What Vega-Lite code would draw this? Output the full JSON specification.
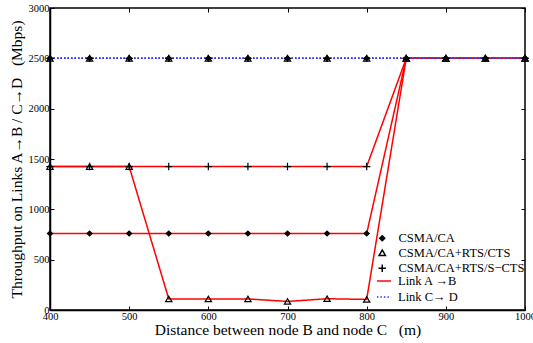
{
  "$schema": "https://vega.github.io/schema/vega-lite/v6.json",
  "width": 475,
  "height": 302,
  "autosize": {"type": "none"},
  "padding": {"left": 50, "top": 8, "right": 8, "bottom": 33},
  "background": "white",
  "config": {
    "font": "Liberation Serif",
    "view": {"stroke": "black", "strokeWidth": 1.5},
    "axis": {
      "labelFont": "Liberation Serif",
      "titleFont": "Liberation Serif",
      "labelFontSize": 10.5,
      "titleFontSize": 15.5,
      "titleFontWeight": "normal",
      "grid": false,
      "domainColor": "black",
      "domainWidth": 1.5,
      "tickColor": "black",
      "labelColor": "black",
      "titleColor": "black",
      "tickSize": -4,
      "format": "d"
    },
    "legend": {
      "labelFont": "Liberation Serif",
      "labelFontSize": 12.5,
      "labelColor": "black"
    }
  },
  "resolve": {"axis": {"x": "independent", "y": "independent"}},
  "datasets": {
    "rows": [
      {"d": 400, "thr": 760, "proto": "CSMA/CA", "link": "Link A →B"},
      {"d": 450, "thr": 760, "proto": "CSMA/CA", "link": "Link A →B"},
      {"d": 500, "thr": 760, "proto": "CSMA/CA", "link": "Link A →B"},
      {"d": 550, "thr": 760, "proto": "CSMA/CA", "link": "Link A →B"},
      {"d": 600, "thr": 760, "proto": "CSMA/CA", "link": "Link A →B"},
      {"d": 650, "thr": 760, "proto": "CSMA/CA", "link": "Link A →B"},
      {"d": 700, "thr": 760, "proto": "CSMA/CA", "link": "Link A →B"},
      {"d": 750, "thr": 760, "proto": "CSMA/CA", "link": "Link A →B"},
      {"d": 800, "thr": 760, "proto": "CSMA/CA", "link": "Link A →B"},
      {"d": 850, "thr": 2500, "proto": "CSMA/CA", "link": "Link A →B"},
      {"d": 900, "thr": 2500, "proto": "CSMA/CA", "link": "Link A →B"},
      {"d": 950, "thr": 2500, "proto": "CSMA/CA", "link": "Link A →B"},
      {"d": 1000, "thr": 2500, "proto": "CSMA/CA", "link": "Link A →B"},
      {"d": 400, "thr": 1425, "proto": "CSMA/CA+RTS/CTS", "link": "Link A →B"},
      {"d": 450, "thr": 1425, "proto": "CSMA/CA+RTS/CTS", "link": "Link A →B"},
      {"d": 500, "thr": 1425, "proto": "CSMA/CA+RTS/CTS", "link": "Link A →B"},
      {"d": 550, "thr": 110, "proto": "CSMA/CA+RTS/CTS", "link": "Link A →B"},
      {"d": 600, "thr": 110, "proto": "CSMA/CA+RTS/CTS", "link": "Link A →B"},
      {"d": 650, "thr": 110, "proto": "CSMA/CA+RTS/CTS", "link": "Link A →B"},
      {"d": 700, "thr": 85, "proto": "CSMA/CA+RTS/CTS", "link": "Link A →B"},
      {"d": 750, "thr": 112, "proto": "CSMA/CA+RTS/CTS", "link": "Link A →B"},
      {"d": 800, "thr": 105, "proto": "CSMA/CA+RTS/CTS", "link": "Link A →B"},
      {"d": 850, "thr": 2500, "proto": "CSMA/CA+RTS/CTS", "link": "Link A →B"},
      {"d": 900, "thr": 2500, "proto": "CSMA/CA+RTS/CTS", "link": "Link A →B"},
      {"d": 950, "thr": 2500, "proto": "CSMA/CA+RTS/CTS", "link": "Link A →B"},
      {"d": 1000, "thr": 2500, "proto": "CSMA/CA+RTS/CTS", "link": "Link A →B"},
      {"d": 400, "thr": 1425, "proto": "CSMA/CA+RTS/S−CTS", "link": "Link A →B"},
      {"d": 450, "thr": 1425, "proto": "CSMA/CA+RTS/S−CTS", "link": "Link A →B"},
      {"d": 500, "thr": 1425, "proto": "CSMA/CA+RTS/S−CTS", "link": "Link A →B"},
      {"d": 550, "thr": 1425, "proto": "CSMA/CA+RTS/S−CTS", "link": "Link A →B"},
      {"d": 600, "thr": 1425, "proto": "CSMA/CA+RTS/S−CTS", "link": "Link A →B"},
      {"d": 650, "thr": 1425, "proto": "CSMA/CA+RTS/S−CTS", "link": "Link A →B"},
      {"d": 700, "thr": 1425, "proto": "CSMA/CA+RTS/S−CTS", "link": "Link A →B"},
      {"d": 750, "thr": 1425, "proto": "CSMA/CA+RTS/S−CTS", "link": "Link A →B"},
      {"d": 800, "thr": 1425, "proto": "CSMA/CA+RTS/S−CTS", "link": "Link A →B"},
      {"d": 850, "thr": 2500, "proto": "CSMA/CA+RTS/S−CTS", "link": "Link A →B"},
      {"d": 900, "thr": 2500, "proto": "CSMA/CA+RTS/S−CTS", "link": "Link A →B"},
      {"d": 950, "thr": 2500, "proto": "CSMA/CA+RTS/S−CTS", "link": "Link A →B"},
      {"d": 1000, "thr": 2500, "proto": "CSMA/CA+RTS/S−CTS", "link": "Link A →B"},
      {"d": 400, "thr": 2500, "proto": "CSMA/CA", "link": "Link C→ D"},
      {"d": 450, "thr": 2500, "proto": "CSMA/CA", "link": "Link C→ D"},
      {"d": 500, "thr": 2500, "proto": "CSMA/CA", "link": "Link C→ D"},
      {"d": 550, "thr": 2500, "proto": "CSMA/CA", "link": "Link C→ D"},
      {"d": 600, "thr": 2500, "proto": "CSMA/CA", "link": "Link C→ D"},
      {"d": 650, "thr": 2500, "proto": "CSMA/CA", "link": "Link C→ D"},
      {"d": 700, "thr": 2500, "proto": "CSMA/CA", "link": "Link C→ D"},
      {"d": 750, "thr": 2500, "proto": "CSMA/CA", "link": "Link C→ D"},
      {"d": 800, "thr": 2500, "proto": "CSMA/CA", "link": "Link C→ D"},
      {"d": 850, "thr": 2500, "proto": "CSMA/CA", "link": "Link C→ D"},
      {"d": 900, "thr": 2500, "proto": "CSMA/CA", "link": "Link C→ D"},
      {"d": 950, "thr": 2500, "proto": "CSMA/CA", "link": "Link C→ D"},
      {"d": 1000, "thr": 2500, "proto": "CSMA/CA", "link": "Link C→ D"},
      {"d": 400, "thr": 2500, "proto": "CSMA/CA+RTS/CTS", "link": "Link C→ D"},
      {"d": 450, "thr": 2500, "proto": "CSMA/CA+RTS/CTS", "link": "Link C→ D"},
      {"d": 500, "thr": 2500, "proto": "CSMA/CA+RTS/CTS", "link": "Link C→ D"},
      {"d": 550, "thr": 2500, "proto": "CSMA/CA+RTS/CTS", "link": "Link C→ D"},
      {"d": 600, "thr": 2500, "proto": "CSMA/CA+RTS/CTS", "link": "Link C→ D"},
      {"d": 650, "thr": 2500, "proto": "CSMA/CA+RTS/CTS", "link": "Link C→ D"},
      {"d": 700, "thr": 2500, "proto": "CSMA/CA+RTS/CTS", "link": "Link C→ D"},
      {"d": 750, "thr": 2500, "proto": "CSMA/CA+RTS/CTS", "link": "Link C→ D"},
      {"d": 800, "thr": 2500, "proto": "CSMA/CA+RTS/CTS", "link": "Link C→ D"},
      {"d": 850, "thr": 2500, "proto": "CSMA/CA+RTS/CTS", "link": "Link C→ D"},
      {"d": 900, "thr": 2500, "proto": "CSMA/CA+RTS/CTS", "link": "Link C→ D"},
      {"d": 950, "thr": 2500, "proto": "CSMA/CA+RTS/CTS", "link": "Link C→ D"},
      {"d": 1000, "thr": 2500, "proto": "CSMA/CA+RTS/CTS", "link": "Link C→ D"},
      {"d": 400, "thr": 2500, "proto": "CSMA/CA+RTS/S−CTS", "link": "Link C→ D"},
      {"d": 450, "thr": 2500, "proto": "CSMA/CA+RTS/S−CTS", "link": "Link C→ D"},
      {"d": 500, "thr": 2500, "proto": "CSMA/CA+RTS/S−CTS", "link": "Link C→ D"},
      {"d": 550, "thr": 2500, "proto": "CSMA/CA+RTS/S−CTS", "link": "Link C→ D"},
      {"d": 600, "thr": 2500, "proto": "CSMA/CA+RTS/S−CTS", "link": "Link C→ D"},
      {"d": 650, "thr": 2500, "proto": "CSMA/CA+RTS/S−CTS", "link": "Link C→ D"},
      {"d": 700, "thr": 2500, "proto": "CSMA/CA+RTS/S−CTS", "link": "Link C→ D"},
      {"d": 750, "thr": 2500, "proto": "CSMA/CA+RTS/S−CTS", "link": "Link C→ D"},
      {"d": 800, "thr": 2500, "proto": "CSMA/CA+RTS/S−CTS", "link": "Link C→ D"},
      {"d": 850, "thr": 2500, "proto": "CSMA/CA+RTS/S−CTS", "link": "Link C→ D"},
      {"d": 900, "thr": 2500, "proto": "CSMA/CA+RTS/S−CTS", "link": "Link C→ D"},
      {"d": 950, "thr": 2500, "proto": "CSMA/CA+RTS/S−CTS", "link": "Link C→ D"},
      {"d": 1000, "thr": 2500, "proto": "CSMA/CA+RTS/S−CTS", "link": "Link C→ D"}
    ]
  },
  "data": {"name": "rows"},
  "layer": [
    {
      "mark": {"type": "line", "strokeWidth": 1.5},
      "encoding": {
        "x": {
          "field": "d",
          "type": "quantitative",
          "scale": {"domain": [400, 1000], "nice": false, "zero": false},
          "axis": {"values": [400, 500, 600, 700, 800, 900, 1000], "title": "Distance between node B and node C\u00a0\u00a0\u00a0(m)", "labelPadding": 5, "titlePadding": 1, "labelFlush": false}
        },
        "y": {
          "field": "thr",
          "type": "quantitative",
          "scale": {"domain": [0, 3000], "nice": false},
          "axis": {"values": [0, 500, 1000, 1500, 2000, 2500, 3000], "title": "Throughput on Links A→B / C→D\u00a0\u00a0\u00a0(Mbps)", "labelPadding": 5, "titlePadding": 4, "labelFlush": false}
        },
        "color": {
          "field": "link",
          "type": "nominal",
          "scale": {"domain": ["Link A →B", "Link C→ D"], "range": ["#ff0000", "#3333ff"]},
          "legend": {"title": null, "orient": "none", "legendX": 326, "legendY": 265, "symbolType": "stroke", "symbolSize": 200, "symbolStrokeWidth": 1.5, "rowPadding": 1, "labelOffset": 6}
        },
        "strokeDash": {
          "field": "link",
          "type": "nominal",
          "scale": {"domain": ["Link A →B", "Link C→ D"], "range": [[1, 0], [1.5, 2]]},
          "legend": {"title": null, "orient": "none", "legendX": 326, "legendY": 265, "symbolType": "stroke", "symbolSize": 200, "symbolStrokeWidth": 1.5, "rowPadding": 1, "labelOffset": 6}
        },
        "detail": {"field": "proto"}
      }
    },
    {
      "mark": {"type": "point", "stroke": "black", "strokeWidth": 1.2, "opacity": 1},
      "encoding": {
        "x": {"field": "d", "type": "quantitative", "axis": null},
        "y": {"field": "thr", "type": "quantitative", "axis": null},
        "shape": {
          "field": "proto",
          "type": "nominal",
          "scale": {"domain": ["CSMA/CA", "CSMA/CA+RTS/CTS", "CSMA/CA+RTS/S−CTS"], "range": ["diamond", "triangle-up", "M-1,0H1M0,-1V1"]},
          "legend": {"title": null, "orient": "none", "legendX": 326, "legendY": 224, "rowPadding": 1.5, "labelOffset": 10}
        },
        "fill": {
          "field": "proto",
          "type": "nominal",
          "scale": {"domain": ["CSMA/CA", "CSMA/CA+RTS/CTS", "CSMA/CA+RTS/S−CTS"], "range": ["black", "transparent", "transparent"]},
          "legend": {"title": null, "orient": "none", "legendX": 326, "legendY": 224, "rowPadding": 1.5, "labelOffset": 10}
        },
        "size": {
          "field": "proto",
          "type": "nominal",
          "scale": {"domain": ["CSMA/CA", "CSMA/CA+RTS/CTS", "CSMA/CA+RTS/S−CTS"], "range": [25, 55, 45]},
          "legend": {"title": null, "orient": "none", "legendX": 326, "legendY": 224, "rowPadding": 1.5, "labelOffset": 10}
        }
      }
    },
    {
      "mark": {"type": "point", "opacity": 0},
      "encoding": {
        "x": {"field": "d", "type": "quantitative", "axis": {"orient": "top", "values": [400, 500, 600, 700, 800, 900, 1000], "labels": false, "title": null, "domain": false}},
        "y": {"field": "thr", "type": "quantitative", "axis": {"orient": "right", "values": [0, 500, 1000, 1500, 2000, 2500, 3000], "labels": false, "title": null, "domain": false}}
      }
    }
  ]
}
